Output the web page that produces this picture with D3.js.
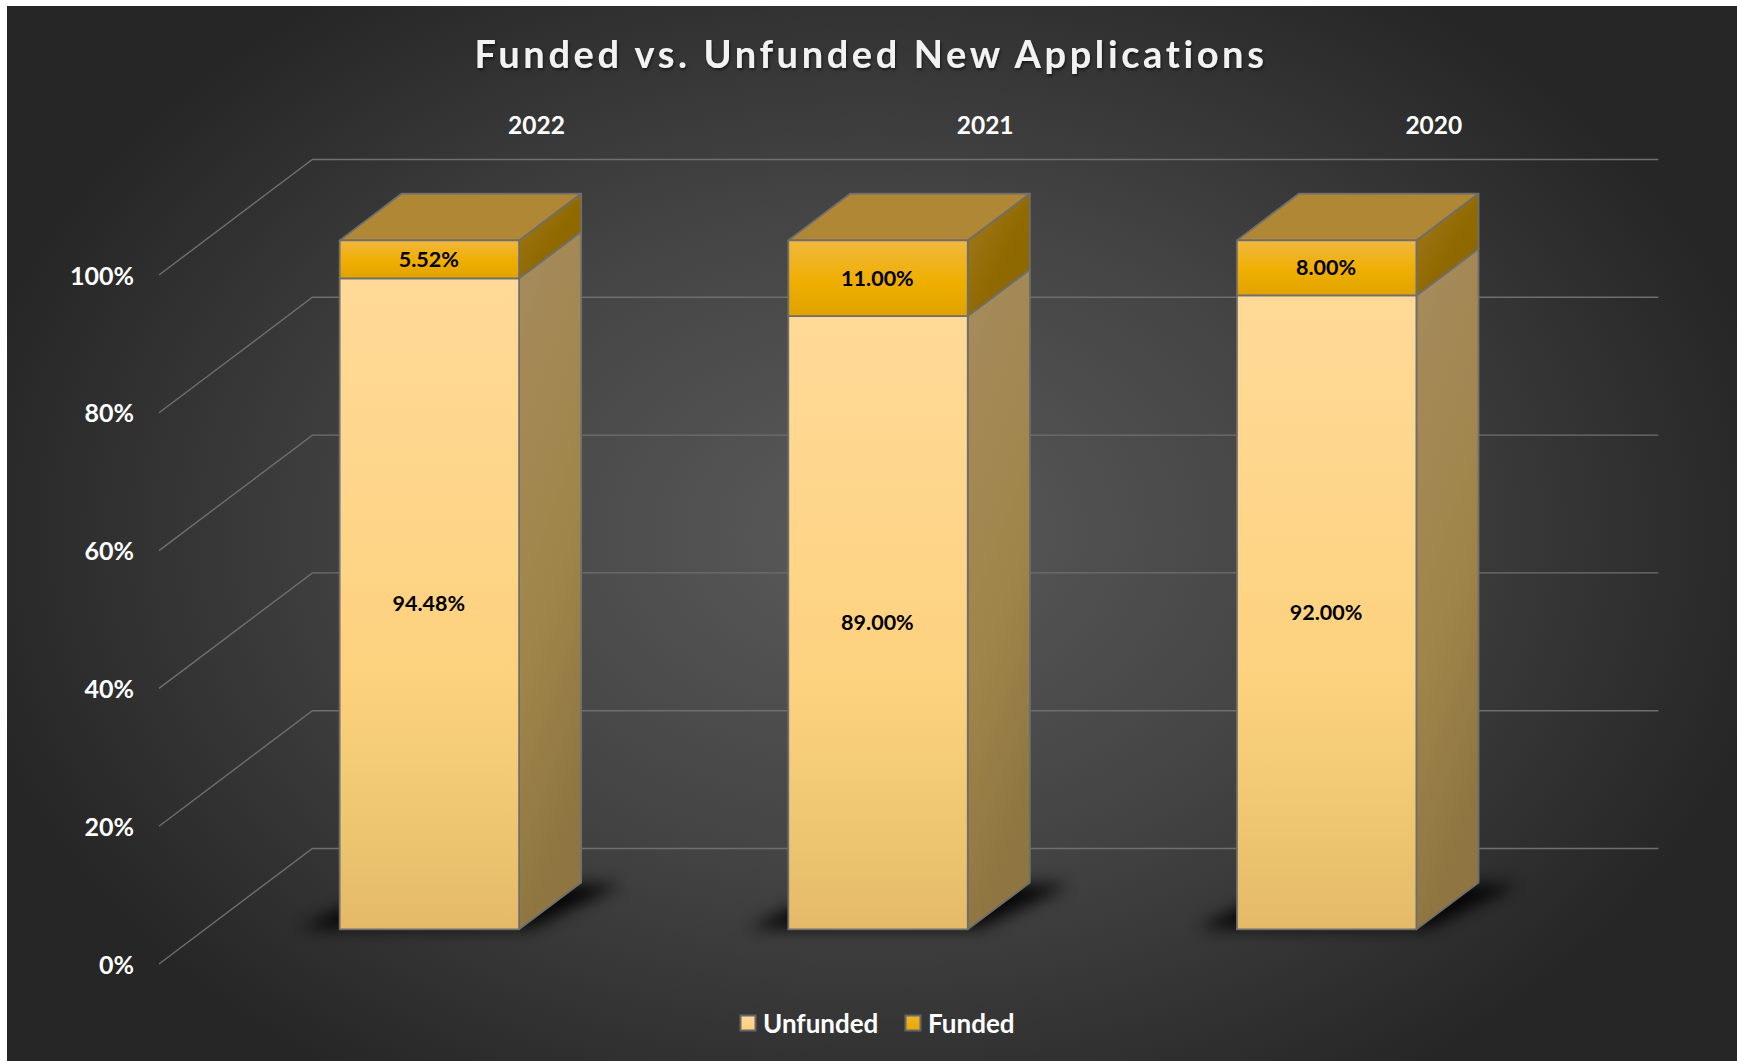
<!DOCTYPE html>
<html><head><meta charset="utf-8">
<script src="https://cdn.jsdelivr.net/npm/d3@7"></script>
<style>html,body{margin:0;padding:0;background:#fff;overflow:hidden}svg{display:block}text{font-family:Lato,"Open Sans",sans-serif}</style>
</head><body><div id="chart"></div>
<script>
const categories=["2022","2021","2020"];
const seriesNames=["Unfunded","Funded"];
const unfunded=[94.48,89,92];
const funded=[5.52,11,8];
const tickValues=[0,20,40,60,80,100];
const W=1737,H=1061;
const svg=d3.select("#chart").append("svg").attr("width",W).attr("height",H);
const defs=svg.append("defs");
function grad(id,attrs,stops){const g=defs.append(attrs.r?"radialGradient":"linearGradient").attr("id",id);
  Object.entries(attrs).forEach(([k,v])=>g.attr(k,v));
  stops.forEach(s=>g.append("stop").attr("offset",s[0]).attr("stop-color",s[1]));}
grad("bg",{gradientUnits:"userSpaceOnUse",cx:870,cy:533,r:920,fx:870,fy:533,gradientTransform:"translate(870 533) scale(1 .72) translate(-870 -533)"},[[0,"#5a5a5a"],[.5,"#444444"],[1,"#262626"]]);
grad("uFront",{x1:0,y1:0,x2:0,y2:1},[[0,"#ffd997"],[.6,"#fdd27f"],[.8,"#f0c873"],[1,"#e4ba68"]]);
grad("fFront",{x1:0,y1:0,x2:0,y2:1},[[0,"#f0b83f"],[.55,"#efae00"],[1,"#e0a200"]]);
grad("uSide",{x1:0,y1:0,x2:.25,y2:1},[[0,"#a68b5e"],[.6,"#a08549"],[1,"#8e7541"]]);
grad("fSide",{x1:0,y1:0,x2:1,y2:1},[[0,"#a37a24"],[.55,"#906a00"],[1,"#8a6500"]]);
defs.append("filter").attr("id","blur").attr("x","-30%").attr("y","-80%").attr("width","160%").attr("height","260%").append("feGaussianBlur").attr("stdDeviation",8);
const ts=defs.append("filter").attr("id","tshadow").attr("x","-5%").attr("y","-20%").attr("width","110%").attr("height","150%");
ts.append("feDropShadow").attr("dx",1).attr("dy",2).attr("stdDeviation",1.5).attr("flood-color","#000").attr("flood-opacity",.55);
grad("lgU",{x1:0,y1:0,x2:0,y2:1},[[0,"#ffd997"],[1,"#fbcf7a"]]);
grad("lgF",{x1:0,y1:0,x2:0,y2:1},[[0,"#f0b52a"],[1,"#e6a800"]]);

svg.append("rect").attr("x",7).attr("y",6).attr("width",W-7).attr("height",H-6).attr("fill","url(#bg)");

// 3-D frame: front floor plane, with depth vector into the back wall
const frontLeft=159, plotWidth=1346, depthX=153.4, depthY=115.5;
const y=d3.scaleLinear().domain([0,100]).range([964,275]);
const barDepth=.405, barStart=.30; // fractions of the total depth
const x=d3.scaleBand().domain(categories).range([frontLeft+depthX*barStart,frontLeft+depthX*barStart+plotWidth]).paddingInner(.6).paddingOuter(.3);
const dBarX=depthX*barDepth, dBarY=depthY*barDepth;
const offY=-depthY*barStart;
const gridColor="#6f6f6f", edge="#6e6e6e";

const grid=svg.append("g").attr("fill","none").attr("stroke",gridColor).attr("stroke-width",1.4);
grid.selectAll("path").data(tickValues).join("path").attr("d",v=>{
  const p=d3.path();p.moveTo(frontLeft,y(v));p.lineTo(frontLeft+depthX,y(v)-depthY);p.lineTo(frontLeft+depthX+plotWidth,y(v)-depthY);return p.toString();});

const yAxis=d3.axisLeft(y).tickValues(tickValues).tickFormat(d=>d+"%").tickSize(0).tickPadding(0);
const ya=svg.append("g").attr("transform",`translate(134,0)`).call(yAxis);
ya.select(".domain").remove();
ya.selectAll("text").attr("fill","#fff").attr("font-size",25).attr("font-weight",700).attr("dy",".36em");

const yb=v=>y(v)+offY;
function poly(pts){return d3.line()(pts);}
// shadows
svg.append("g").selectAll("path").data(categories).join("path")
  .attr("d",c=>{const l=x(c),r=l+x.bandwidth(),b=yb(0);
    return poly([[l-40,b-1],[l+dBarX-10,b-dBarY+2],[r+dBarX+40,b-dBarY+2],[r+12,b-1]])+"Z";})
  .attr("fill","#000").attr("opacity",.9).attr("filter","url(#blur)");

const bars=svg.append("g").selectAll("g").data(categories).join("g");
bars.each(function(c,i){
  const g=d3.select(this),l=x(c),r=l+x.bandwidth();
  const y0=yb(0),y1=yb(unfunded[i]),y2=yb(unfunded[i]+funded[i]);
  const st={stroke:edge,"stroke-width":1.8,"stroke-linejoin":"round"};
  const face=(pts,fill)=>{const p=g.append("path").attr("d",poly(pts)+"Z").attr("fill",fill);Object.entries(st).forEach(([k,v])=>p.attr(k,v));};
  face([[r,y0],[r+dBarX,y0-dBarY],[r+dBarX,y1-dBarY],[r,y1]],"url(#uSide)");
  face([[r,y1],[r+dBarX,y1-dBarY],[r+dBarX,y2-dBarY],[r,y2]],"url(#fSide)");
  face([[l,y2],[l+dBarX,y2-dBarY],[r+dBarX,y2-dBarY],[r,y2]],"#b08735");
  face([[l,y1],[r,y1],[r,y0],[l,y0]],"url(#uFront)");
  face([[l,y2],[r,y2],[r,y1],[l,y1]],"url(#fFront)");
  const label=(v,m)=>g.append("text").attr("x",(l+r)/2-.6).attr("y",m).attr("dy",".35em").attr("text-anchor","middle").attr("fill","#000").attr("font-size",21.5).attr("font-weight",700).text(d3.format(".2f")(v)+"%");
  label(unfunded[i],(y0+y1)/2);
  label(funded[i],(y1+y2)/2);
  g.append("text").attr("x",(l+r)/2+dBarX+45).attr("y",125.5).attr("dy",".35em").attr("text-anchor","middle").attr("fill","#fff").attr("font-size",24.5).attr("font-weight",700).text(c);
});

svg.append("text").attr("x",871).attr("y",54.5).attr("dy",".35em").attr("text-anchor","middle").attr("fill","#f2f2f2").attr("font-size",38).attr("font-weight",700).attr("letter-spacing",3.6).attr("filter","url(#tshadow)").text("Funded vs. Unfunded New Applications");

// legend
const legendX=[740.5,905.5];
const legendFill=["url(#lgU)","url(#lgF)"];
const lg=svg.append("g").selectAll("g").data(seriesNames).join("g").attr("transform",(d,i)=>`translate(${legendX[i]},1023)`);
lg.append("rect").attr("x",0).attr("y",-7.5).attr("width",15).attr("height",15).attr("fill",(d,i)=>legendFill[i]).attr("stroke","#666").attr("stroke-width",2);
lg.append("text").attr("x",22.5).attr("y",1).attr("dy",".35em").attr("fill","#fff").attr("font-size",26).attr("font-weight",700).text(d=>d);
</script></body></html>
